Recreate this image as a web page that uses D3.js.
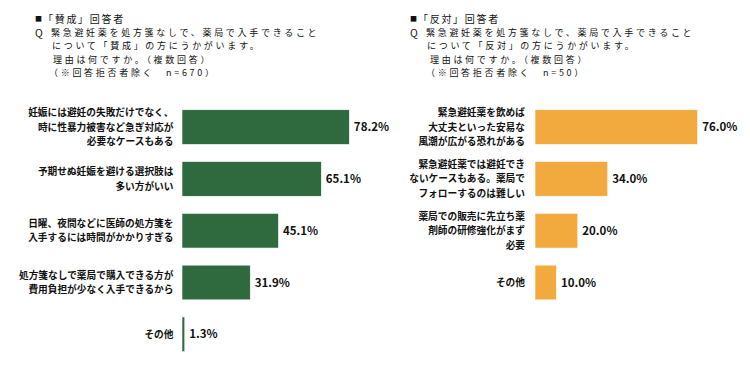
<!DOCTYPE html>
<html><head><meta charset="utf-8">
<script src="https://cdn.jsdelivr.net/npm/d3@7"></script>
<style>
html,body{margin:0;padding:0;background:#fff;}
svg{display:block;font-family:"Noto Sans CJK JP","Noto Sans",sans-serif;}
</style></head>
<body>
<svg id="chart" width="750" height="381"></svg>
<script>
// ---- data ----
const leftTitle = ["「賛成」回答者", "緊急避妊薬を処方箋なしで、薬局で入手できること", "について「賛成」の方にうかがいます。", "理由は何ですか。（複数回答）", "（※回答拒否者除く　n=670）"];
const leftCategories = [
  "妊娠には避妊の失敗だけでなく、\n時に性暴力被害など急ぎ対応が\n必要なケースもある",
  "予期せぬ妊娠を避ける選択肢は\n多い方がいい",
  "日曜、夜間などに医師の処方箋を\n入手するには時間がかかりすぎる",
  "処方箋なしで薬局で購入できる方が\n費用負担が少なく入手できるから",
  "その他"
];
const leftValues = [78.2, 65.1, 45.1, 31.9, 1.3];

const rightTitle = ["「反対」回答者", "緊急避妊薬を処方箋なしで、薬局で入手できること", "について「反対」の方にうかがいます。", "理由は何ですか。（複数回答）", "（※回答拒否者除く　n=50）"];
const rightCategories = [
  "緊急避妊薬を飲めば\n大丈夫といった安易な\n風潮が広がる恐れがある",
  "緊急避妊薬では避妊でき\nないケースもある。薬局で\nフォローするのは難しい",
  "薬局での販売に先立ち薬\n剤師の研修強化がまず\n必要",
  "その他"
];
const rightValues = [76.0, 34.0, 20.0, 10.0];

const svg = d3.select("#chart");

function panel(cfg) {
  const g = svg.append("g");
  // title block
  const t = g.append("g").attr("fill", "#111");
  t.append("text").attr("x", cfg.tx).attr("y", 20.5).attr("font-size", 7).text("■");
  t.append("text").attr("x", cfg.tx).attr("y", 36.6).attr("font-size", 10.5).text("Q");
  const pos = [[8, 22.5, 10, 1.7], [16, 36.3, 9, 2.7], [17, 49.4, 9, 2.7], [18 + cfg.ind, 62.5, 9, 2.7], [14 + cfg.ind, 75.6, 9, 2.7]];
  cfg.title.forEach((line, i) => {
    t.append("text").attr("x", cfg.tx + pos[i][0]).attr("y", pos[i][1])
      .attr("font-size", pos[i][2]).attr("letter-spacing", pos[i][3]).text(line);
  });

  const step = 51.8;
  const y = d3.scaleBand()
    .domain(cfg.cats)
    .range([101.2, 101.2 + step * cfg.cats.length])
    .paddingInner(0.33).paddingOuter(0.165);
  const x = d3.scaleLinear().domain([0, 100]).range([cfg.x0, cfg.x0 + 214]);

  const rows = g.selectAll("g.row").data(cfg.cats.map((c, i) => ({c, v: cfg.vals[i]})))
    .join("g").attr("class", "row");

  rows.append("rect")
    .attr("x", x(0)).attr("y", d => y(d.c))
    .attr("width", d => x(d.v) - x(0)).attr("height", y.bandwidth())
    .attr("fill", cfg.color).attr("stroke", "#ffffff").attr("stroke-width", 0.6);

  rows.append("text")
    .attr("x", d => x(d.v) + 4.5)
    .attr("y", d => y(d.c) + y.bandwidth() / 2 + 4)
    .attr("font-size", 11.5).attr("font-weight", "bold").attr("fill", "#111")
    .text(d => d.v.toFixed(1) + "%");

  rows.each(function(d) {
    const lines = d.c.split("\n");
    const lh = 14.3;
    const cy = y(d.c) + y.bandwidth() / 2;
    const tx = d3.select(this).append("text")
      .attr("text-anchor", "end").attr("font-size", 9.7).attr("font-weight", "bold").attr("fill", "#111");
    lines.forEach((l, i) => {
      tx.append("tspan").attr("x", cfg.lx)
        .attr("y", cy + (i - (lines.length - 1) / 2) * lh + 3.5)
        .text(l);
    });
  });
}

panel({tx: 35, ind: 0, title: leftTitle, cats: leftCategories, vals: leftValues, x0: 182, lx: 173.5, color: "#2f6a3f"});
panel({tx: 410, ind: 2, title: rightTitle, cats: rightCategories, vals: rightValues, x0: 535, lx: 525, color: "#f2aa3f"});
</script>
</body></html>
